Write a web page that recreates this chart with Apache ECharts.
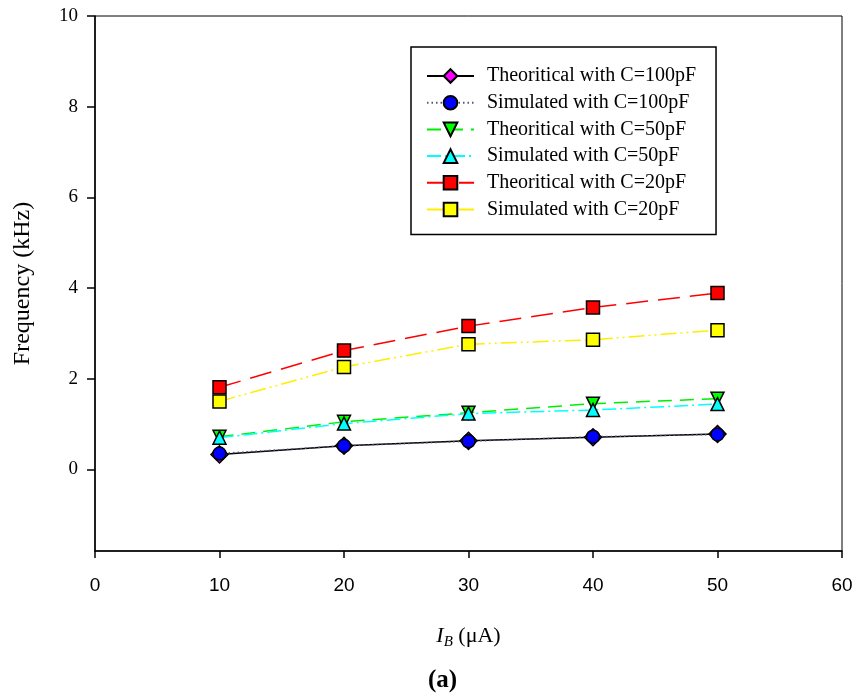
<!doctype html>
<html>
    <head>
        <meta charset="utf-8">
        <title>Frequency vs IB</title>
        <style>
            html, body { margin: 0; padding: 0; background: #fff; }
            #main { width: 859px; height: 699px; }
        </style>
    </head>
    <body>
        <div id="main"></div>
        <script src="https://cdn.jsdelivr.net/npm/echarts@6/dist/echarts.min.js"></script>
        <script>
            var ib = [10, 20, 30, 40, 50];
            var theo100 = [0.33, 0.52, 0.63, 0.71, 0.78];
            var sim100 = [0.35, 0.52, 0.62, 0.72, 0.77];
            var theo50 = [0.72, 1.05, 1.25, 1.45, 1.56];
            var sim50 = [0.70, 1.01, 1.23, 1.31, 1.44];
            var theo20 = [1.81, 2.62, 3.16, 3.57, 3.89];
            var sim20 = [1.50, 2.26, 2.76, 2.86, 3.07];
            var yTicks = [0, 2, 4, 6, 8, 10];

            var serif = '"Liberation Serif", "Times New Roman", serif';
            var sans = '"Liberation Sans", Arial, sans-serif';

            function pairs(ys) {
                return ib.map(function (x, i) { return [x, ys[i]]; });
            }

            function line(name, ys, color, lineType, fill, symbol, size, rotate) {
                return {
                    name: name,
                    type: 'line',
                    data: pairs(ys),
                    symbol: symbol,
                    symbolSize: size,
                    symbolRotate: rotate || 0,
                    lineStyle: { color: color, width: 1.5, type: lineType },
                    itemStyle: { color: fill, borderColor: '#000', borderWidth: 1.5 },
                    emphasis: { disabled: true },
                    animation: false
                };
            }

            var chart = echarts.init(document.getElementById('main'));

            chart.setOption({
                backgroundColor: '#fff',
                title: {
                    text: '(a)',
                    left: 428,
                    top: 668,
                    padding: 0,
                    textStyle: { fontFamily: serif, fontWeight: 'bold', fontSize: 25, color: '#000' }
                },
                grid: {
                    left: 95, right: 17, top: 16, bottom: 148,
                    show: true, borderColor: '#000', borderWidth: 1,
                    outerBoundsMode: 'none'
                },
                legend: {
                    orient: 'vertical',
                    left: 411,
                    top: 47,
                    padding: [19, 20, 15, 15],
                    itemWidth: 47,
                    itemHeight: 17,
                    itemGap: 6.7,
                    borderColor: '#000',
                    borderWidth: 1.5,
                    textStyle: { fontFamily: serif, fontSize: 20, color: '#000', padding: [0, 0, 0, 8] },
                    data: ['Theoritical with C=100pF', 'Simulated with C=100pF', 'Theoritical with C=50pF',
                        'Simulated with C=50pF', 'Theoritical with C=20pF', 'Simulated with C=20pF']
                },
                xAxis: {
                    type: 'value',
                    min: 0, max: 60, interval: 10,
                    name: '{i|I}{sub|B}{n| (μA)}',
                    nameLocation: 'middle',
                    nameGap: 72,
                    nameTextStyle: {
                        rich: {
                            i: { fontFamily: serif, fontStyle: 'italic', fontSize: 22, color: '#000' },
                            sub: { fontFamily: serif, fontStyle: 'italic', fontSize: 15, color: '#000', padding: [12, 0, 0, 0] },
                            n: { fontFamily: serif, fontSize: 22, color: '#000' }
                        }
                    },
                    axisLine: { onZero: false, lineStyle: { color: '#000', width: 1.5 } },
                    axisTick: { inside: false, length: 7, lineStyle: { color: '#000', width: 1.5 } },
                    axisLabel: { fontFamily: sans, fontSize: 19, color: '#000', margin: 25 },
                    splitLine: { show: false }
                },
                yAxis: {
                    type: 'value',
                    min: -1.8, max: 10,
                    name: 'Frequency (kHz)',
                    nameLocation: 'middle',
                    nameGap: 60,
                    nameTextStyle: { fontFamily: serif, fontSize: 24, color: '#000' },
                    axisLine: { onZero: false, lineStyle: { color: '#000', width: 1.5 } },
                    axisTick: { inside: false, length: 8, customValues: yTicks, lineStyle: { color: '#000', width: 1.5 } },
                    axisLabel: { fontFamily: serif, fontSize: 19, color: '#000', margin: 17, customValues: yTicks },
                    splitLine: { show: false }
                },
                series: [
                    line('Theoritical with C=100pF', theo100, '#000', 'solid', '#ff00ff', 'diamond', 17),
                    line('Simulated with C=100pF', sim100, '#555577', [1.5, 3], '#0000ff', 'circle', 13),
                    line('Theoritical with C=50pF', theo50, '#00ee00', [14, 8], '#00ff00', 'triangle', 13, 180),
                    line('Simulated with C=50pF', sim50, '#00ffff', [14, 4, 2, 4], '#00ffff', 'triangle', 13),
                    line('Theoritical with C=20pF', theo20, '#ff0000', [22, 10], '#ff0000', 'rect', 13),
                    line('Simulated with C=20pF', sim20, '#ffee00', [16, 4, 2, 4, 2, 4], '#ffff00', 'rect', 13)
                ]
            });
        </script>
    </body>
</html>
